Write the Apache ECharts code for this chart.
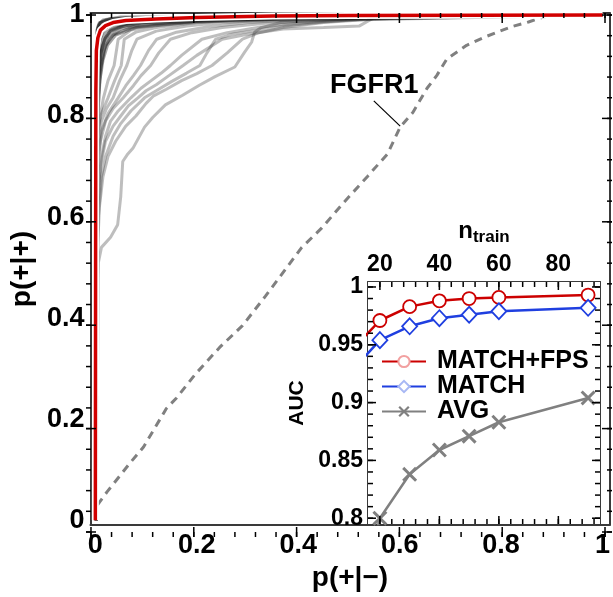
<!DOCTYPE html>
<html>
<head>
<meta charset="utf-8">
<script src="https://cdn.jsdelivr.net/npm/echarts@6/dist/echarts.min.js"></script>
<style>html,body{margin:0;padding:0;background:#fff}#c{width:613px;height:597px}</style>
</head>
<body>
<div id="c"></div>
<script>
// ---------- main ROC panel data ----------
const mainTickLabels = [0, 0.2, 0.4, 0.6, 0.8, 1];
const mainMinorTicks = [0,0.04,0.08,0.12,0.16,0.2,0.24,0.28,0.32,0.36,0.4,0.44,0.48,0.52,0.56,0.6,0.64,0.68,0.72,0.76,0.8,0.84,0.88,0.92,0.96,1];

// individual ROC curves (gray)
const rocG1 = [[0.002,0],[0.004,0.26],[0.006,0.51],[0.012,0.54],[0.03,0.56],[0.044,0.585],[0.05,0.64],[0.054,0.71],[0.064,0.725],[0.074,0.736],[0.097,0.778],[0.113,0.797],[0.138,0.822],[0.172,0.841],[0.205,0.861],[0.236,0.878],[0.275,0.897],[0.294,0.926],[0.308,0.946],[0.314,0.966],[0.327,0.975],[0.366,0.985],[0.45,0.99],[0.55,0.994],[0.7,0.997],[1,1]];
const rocG2 = [[0.002,0],[0.003,0.35],[0.005,0.55],[0.008,0.62],[0.015,0.68],[0.025,0.72],[0.04,0.75],[0.06,0.78],[0.08,0.8],[0.1,0.825],[0.115,0.84],[0.14,0.853],[0.17,0.87],[0.2,0.884],[0.23,0.9],[0.26,0.925],[0.29,0.952],[0.32,0.964],[0.37,0.975],[0.45,0.985],[0.55,0.992],[0.7,0.997],[1,1]];
const rocG3 = [[0.002,0],[0.003,0.4],[0.006,0.6],[0.012,0.68],[0.02,0.72],[0.035,0.76],[0.05,0.785],[0.07,0.81],[0.097,0.836],[0.12,0.85],[0.15,0.868],[0.18,0.885],[0.206,0.9],[0.22,0.925],[0.237,0.952],[0.27,0.962],[0.32,0.97],[0.37,0.978],[0.45,0.986],[0.55,0.993],[1,1]];
const rocG4 = [[0.002,0],[0.003,0.45],[0.005,0.62],[0.01,0.7],[0.02,0.75],[0.035,0.78],[0.05,0.8],[0.065,0.82],[0.084,0.836],[0.1,0.85],[0.12,0.862],[0.145,0.88],[0.173,0.9],[0.2,0.92],[0.25,0.952],[0.3,0.962],[0.37,0.972],[0.45,0.975],[0.52,0.978],[0.55,0.995],[1,1]];
const rocG5 = [[0.002,0],[0.003,0.5],[0.006,0.66],[0.012,0.72],[0.02,0.76],[0.03,0.79],[0.045,0.81],[0.07,0.836],[0.09,0.855],[0.11,0.87],[0.13,0.885],[0.148,0.9],[0.17,0.92],[0.21,0.952],[0.26,0.965],[0.32,0.975],[0.4,0.984],[0.5,0.99],[1,1]];
const rocG6 = [[0.002,0],[0.003,0.55],[0.005,0.7],[0.01,0.75],[0.02,0.79],[0.035,0.815],[0.055,0.836],[0.075,0.86],[0.09,0.88],[0.109,0.9],[0.125,0.925],[0.148,0.952],[0.19,0.965],[0.25,0.975],[0.33,0.983],[0.45,0.99],[1,1]];
const rocG7 = [[0.002,0],[0.003,0.6],[0.006,0.72],[0.012,0.77],[0.025,0.805],[0.045,0.836],[0.06,0.86],[0.075,0.88],[0.089,0.9],[0.105,0.93],[0.121,0.952],[0.16,0.966],[0.22,0.976],[0.3,0.985],[0.4,0.99],[1,1]];
const rocG8 = [[0.002,0],[0.003,0.62],[0.006,0.74],[0.012,0.79],[0.022,0.815],[0.035,0.836],[0.048,0.87],[0.062,0.9],[0.072,0.93],[0.082,0.952],[0.12,0.968],[0.18,0.978],[0.25,0.985],[0.35,0.99],[1,1]];
const rocG9 = [[0.002,0],[0.003,0.65],[0.005,0.76],[0.01,0.8],[0.025,0.836],[0.038,0.87],[0.051,0.9],[0.057,0.952],[0.08,0.966],[0.12,0.975],[0.2,0.985],[0.3,0.99],[1,1]];
const rocG10 = [[0.002,0],[0.003,0.68],[0.006,0.78],[0.016,0.836],[0.025,0.87],[0.037,0.9],[0.045,0.952],[0.07,0.97],[0.12,0.98],[0.2,0.987],[0.35,0.993],[1,1]];
const rocD1 = [[0.001,0],[0.002,0.8],[0.003,0.9],[0.006,0.95],[0.012,0.97],[0.03,0.98],[0.08,0.99],[0.2,0.995],[1,1]];
const rocD2 = [[0.002,0],[0.003,0.7],[0.005,0.86],[0.01,0.92],[0.018,0.952],[0.03,0.97],[0.06,0.982],[0.15,0.99],[0.4,0.997],[1,1]];
const rocD3 = [[0.002,0],[0.004,0.75],[0.008,0.88],[0.017,0.93],[0.028,0.955],[0.05,0.972],[0.1,0.982],[0.25,0.99],[0.5,0.996],[1,1]];
const rocD4 = [[0.001,0],[0.002,0.88],[0.003,0.95],[0.005,0.975],[0.01,0.985],[0.03,0.99],[0.1,0.995],[1,1]];
const rocD5 = [[0.002,0],[0.003,0.72],[0.006,0.84],[0.012,0.9],[0.02,0.94],[0.035,0.96],[0.07,0.975],[0.15,0.985],[0.3,0.992],[1,1]];
const rocD6 = [[0.001,0],[0.0015,0.9],[0.003,0.97],[0.008,0.985],[0.02,0.99],[0.06,0.995],[1,1]];
const rocD7 = [[0.002,0],[0.004,0.82],[0.007,0.9],[0.014,0.94],[0.025,0.96],[0.045,0.975],[0.09,0.985],[0.2,0.99],[1,1]];
const rocD8 = [[0.002,0],[0.003,0.6],[0.005,0.8],[0.009,0.87],[0.015,0.91],[0.024,0.94],[0.04,0.96],[0.08,0.975],[0.2,0.986],[0.4,0.993],[1,1]];
const rocD9 = [[0.001,0],[0.002,0.93],[0.004,0.96],[0.01,0.975],[0.025,0.985],[0.05,0.99],[0.2,0.996],[1,1]];
const rocD10 = [[0.002,0],[0.003,0.78],[0.006,0.9],[0.011,0.945],[0.02,0.965],[0.04,0.978],[0.1,0.988],[0.3,0.995],[1,1]];
const rocD11 = [[0.001,0],[0.002,0.85],[0.004,0.94],[0.007,0.965],[0.015,0.98],[0.04,0.988],[0.12,0.994],[1,1]];
const rocD12 = [[0.002,0],[0.003,0.8],[0.005,0.91],[0.009,0.95],[0.016,0.97],[0.03,0.982],[0.07,0.99],[0.25,0.996],[1,1]];
const rocD13 = [[0.001,0],[0.002,0.9],[0.003,0.96],[0.006,0.98],[0.015,0.99],[0.05,0.996],[1,1]];
const rocD14 = [[0.002,0],[0.003,0.74],[0.006,0.87],[0.01,0.925],[0.02,0.955],[0.03,0.968],[0.055,0.978],[0.1,0.985],[0.25,0.993],[1,1]];
const rocD15 = [[0.001,0],[0.002,0.92],[0.004,0.97],[0.01,0.985],[0.03,0.993],[1,1]];

// FGFR1 (dashed)
const rocFGFR1 = [[0.004,0.03],[0.023,0.056],[0.069,0.114],[0.095,0.145],[0.14,0.221],[0.16,0.242],[0.198,0.29],[0.245,0.342],[0.29,0.385],[0.335,0.443],[0.407,0.54],[0.446,0.578],[0.49,0.629],[0.537,0.681],[0.576,0.725],[0.601,0.778],[0.626,0.807],[0.654,0.855],[0.673,0.88],[0.693,0.913],[0.732,0.94],[0.767,0.956],[0.79,0.965],[0.821,0.977],[0.854,0.986],[0.883,0.996],[0.912,1],[1,1]];
// MATCH+FPS combined ROC (red)
const rocRed = [[0,0],[0.0005,0.5],[0.001,0.85],[0.002,0.93],[0.005,0.955],[0.01,0.97],[0.02,0.979],[0.035,0.985],[0.06,0.989],[0.12,0.992],[0.2,0.995],[0.35,0.998],[0.5,0.999],[1,1]];
// annotation pointer
const fgfrPointer = [[0.549,0.83],[0.601,0.78]];

// ---------- inset data ----------
const nTrain = [10, 20, 30, 40, 50, 60, 90];
const aucMatchFps = [0.944, 0.971, 0.983, 0.988, 0.990, 0.991, 0.993];
const aucMatch    = [0.926, 0.954, 0.966, 0.973, 0.976, 0.979, 0.982];
const aucAvg      = [0.70, 0.800, 0.838, 0.859, 0.871, 0.883, 0.904];
const insetXLabels = [20, 40, 60, 80];
const insetXMinor = [20,24,28,32,36,40,44,48,52,56,60,64,68,72,76,80,84,88,92];
const insetYLabels = [0.8, 0.85, 0.9, 0.95, 1];
const insetYMinor = [0.8,0.81,0.82,0.83,0.84,0.85,0.86,0.87,0.88,0.89,0.9,0.91,0.92,0.93,0.94,0.95,0.96,0.97,0.98,0.99,1];

const grayCurves = [rocG1,rocG2,rocG3,rocG4,rocG5,rocG6,rocG7,rocG8,rocG9,rocG10];
const denseCurves = [rocD1,rocD2,rocD3,rocD4,rocD5,rocD6,rocD7,rocD8,rocD9,rocD10,rocD11,rocD12,rocD13,rocD14,rocD15];

const FONT = 'Liberation Sans, Arial, Helvetica, sans-serif';
const WEIGHT = 'bold';
const frameColor = '#3a3a3a';
const fmt = v => String(+(+v).toFixed(3));

const XMIN = -0.0097, XMAX = 1.0136, YMIN = -0.0097, YMAX = 1.0039;
const IXMIN = 16, IXMAX = 94, IYMIN = 0.795, IYMAX = 1.0043;
const GRID_MAIN = {left: 86, top: 13, width: 526, height: 524};
const GRID_INSET = {left: 368, top: 282, width: 232, height: 242};

function frameAxis(grid, pos, min, max, labels, extra) {
  return Object.assign({
    gridIndex: grid, type: 'value', position: pos, min: min, max: max,
    splitLine: {show: false},
    axisLine: {show: true, onZero: false, lineStyle: {color: frameColor, width: 2}},
    axisTick: {show: false},
    axisLabel: labels ? Object.assign({show: true, customValues: labels.values, formatter: fmt, fontFamily: FONT, fontWeight: WEIGHT, color: '#000'}, labels.style) : {show: false},
  }, extra || {});
}

const xAxes = [
  frameAxis(0, 'bottom', XMIN, XMAX, {values: mainTickLabels, style: {fontSize: 27, margin: 7}},
    {name: 'p(+|\u2212)', nameLocation: 'middle', nameGap: 32, nameTextStyle: {fontSize: 28, fontFamily: FONT, fontWeight: WEIGHT, color: '#000'}}),
  frameAxis(0, 'top', XMIN, XMAX, null),
  frameAxis(1, 'top', IXMIN, IXMAX, {values: insetXLabels, style: {fontSize: 23, margin: 6}},
    {name: '{n|n}{s|train}', nameLocation: 'middle', nameGap: 36, nameTextStyle: {fontFamily: FONT, color: '#000', rich: {n: {fontSize: 24, fontFamily: FONT, fontWeight: WEIGHT}, s: {fontSize: 17, fontFamily: FONT, fontWeight: WEIGHT, padding: [12, 0, 0, 0]}}}}),
  frameAxis(1, 'bottom', IXMIN, IXMAX, null)
];
const yAxes = [
  frameAxis(0, 'left', YMIN, YMAX, {values: mainTickLabels, style: {fontSize: 27, margin: 6}},
    {name: 'p(+|+)', nameLocation: 'middle', nameGap: 50, nameTextStyle: {fontSize: 28, fontFamily: FONT, fontWeight: WEIGHT, color: '#000'}}),
  frameAxis(0, 'right', YMIN, YMAX, null),
  frameAxis(1, 'left', IYMIN, IYMAX, {values: insetYLabels, style: {fontSize: 23, margin: 5}},
    {name: 'AUC', nameLocation: 'middle', nameGap: 60, nameTextStyle: {fontSize: 21, fontFamily: FONT, fontWeight: WEIGHT, color: '#000'}}),
  frameAxis(1, 'right', IYMIN, IYMAX, null)
];

const series = [];
grayCurves.forEach((c, i) => {
  series.push({type: 'line', name: 'g' + i, xAxisIndex: 0, yAxisIndex: 0, data: c,
    showSymbol: false, symbol: 'none', silent: true, z: 2,
    lineStyle: {color: 'rgba(40,40,40,0.3)', width: 3}});
});
denseCurves.forEach((c, i) => {
  series.push({type: 'line', name: 'd' + i, xAxisIndex: 0, yAxisIndex: 0, data: c,
    showSymbol: false, symbol: 'none', silent: true, z: 2,
    lineStyle: {color: 'rgba(20,20,20,0.38)', width: 3}});
});
series.push({type: 'line', name: 'FGFR1', xAxisIndex: 0, yAxisIndex: 0, data: rocFGFR1, symbol: 'none', silent: true, z: 3,
  lineStyle: {color: '#808080', width: 3, type: [8, 6]}});
series.push({type: 'line', name: 'pointer', xAxisIndex: 0, yAxisIndex: 0, data: fgfrPointer, symbol: 'none', silent: true, z: 3,
  lineStyle: {color: '#000', width: 1.2}});
series.push({type: 'line', name: 'redHalo', xAxisIndex: 0, yAxisIndex: 0, data: rocRed, symbol: 'none', silent: true, z: 4,
  lineStyle: {color: '#fff', width: 7}});
series.push({type: 'line', name: 'red', xAxisIndex: 0, yAxisIndex: 0, data: rocRed, symbol: 'none', silent: true, z: 5,
  lineStyle: {color: '#d10000', width: 3.5}});

const xPath = 'path://M0,1.4 L1.4,0 L5,3.6 L8.6,0 L10,1.4 L6.4,5 L10,8.6 L8.6,10 L5,6.4 L1.4,10 L0,8.6 L3.6,5 Z';
const pairs = (xs, ys) => xs.map((x, i) => [x, ys[i]]);
series.push({type: 'line', name: 'MATCH+FPS', xAxisIndex: 2, yAxisIndex: 2, data: pairs(nTrain, aucMatchFps), z: 10,
  symbol: 'circle', symbolSize: 13, showAllSymbol: true, clip: true,
  lineStyle: {color: '#cc0000', width: 2.5}, itemStyle: {color: '#fff', borderColor: '#cc0000', borderWidth: 1.8}});
series.push({type: 'line', name: 'MATCH', xAxisIndex: 2, yAxisIndex: 2, data: pairs(nTrain, aucMatch), z: 10,
  symbol: 'diamond', symbolSize: [15, 16], showAllSymbol: true, clip: true,
  lineStyle: {color: '#1f3fe0', width: 2.5}, itemStyle: {color: '#fff', borderColor: '#1f3fe0', borderWidth: 1.8}});
series.push({type: 'line', name: 'AVG', xAxisIndex: 2, yAxisIndex: 2, data: pairs(nTrain, aucAvg), z: 10,
  symbol: xPath, symbolSize: 15, showAllSymbol: true, clip: true,
  lineStyle: {color: '#808080', width: 2.5}, itemStyle: {color: '#808080'}});

// tick marks: positions from each axis's linear value→pixel mapping over its grid rectangle
function ticks(g, xr, yr, xMaj, xMin, yMaj, yMin, majLen, minLen, z) {
  const out = [];
  const L = g.left, R = g.left + g.width, T = g.top, B = g.top + g.height;
  const px = v => L + (v - xr[0]) / (xr[1] - xr[0]) * g.width;
  const py = v => B - (v - yr[0]) / (yr[1] - yr[0]) * g.height;
  const W = 1.5;
  const addX = (v, len) => {
    const p = px(v);
    out.push({type: 'rect', silent: true, z: z, shape: {x: p - W / 2, y: B - len, width: W, height: len}, style: {fill: '#000'}});
    out.push({type: 'rect', silent: true, z: z, shape: {x: p - W / 2, y: T, width: W, height: len}, style: {fill: '#000'}});
  };
  const addY = (v, len) => {
    const p = py(v);
    out.push({type: 'rect', silent: true, z: z, shape: {x: L, y: p - W / 2, width: len, height: W}, style: {fill: '#000'}});
    out.push({type: 'rect', silent: true, z: z, shape: {x: R - len, y: p - W / 2, width: len, height: W}, style: {fill: '#000'}});
  };
  xMin.forEach(v => addX(v, minLen)); xMaj.forEach(v => addX(v, majLen));
  yMin.forEach(v => addY(v, minLen)); yMaj.forEach(v => addY(v, majLen));
  return out;
}
const graphics = [].concat(
  ticks(GRID_MAIN, [XMIN, XMAX], [YMIN, YMAX], mainTickLabels, mainMinorTicks, mainTickLabels, mainMinorTicks, 10, 5, 50),
  ticks(GRID_INSET, [IXMIN, IXMAX], [IYMIN, IYMAX], insetXLabels, insetXMinor, insetYLabels, insetYMinor, 8, 5, 60),
  [{type: 'text', left: 330, top: 72, z: 70, style: {text: 'FGFR1', font: WEIGHT + ' 27px ' + FONT, fill: '#000'}}]
);

const chart = echarts.init(document.getElementById('c'), null, {renderer: 'canvas'});
chart.setOption({
  animation: false,
  backgroundColor: '#fff',
  grid: [
    Object.assign({containLabel: false}, GRID_MAIN),
    Object.assign({containLabel: false, show: true, backgroundColor: '#fff', borderWidth: 0, z: 8}, GRID_INSET)
  ],
  xAxis: xAxes,
  yAxis: yAxes,
  legend: {
    orient: 'vertical', left: 376, top: 344, itemWidth: 44, itemHeight: 14, itemGap: 0,
    data: [
      {name: 'MATCH+FPS', itemStyle: {color: '#fff', borderColor: '#f2a0a0'}},
      {name: 'MATCH', itemStyle: {color: '#fff', borderColor: '#a8b8f4'}},
      {name: 'AVG'}
    ],
    textStyle: {fontSize: 25, fontFamily: FONT, fontWeight: WEIGHT, color: '#000', lineHeight: 22, padding: [0, 0, 0, 6]},
    selectedMode: false, z: 20
  },
  graphic: graphics,
  series: series
});
</script>
</body>
</html>
